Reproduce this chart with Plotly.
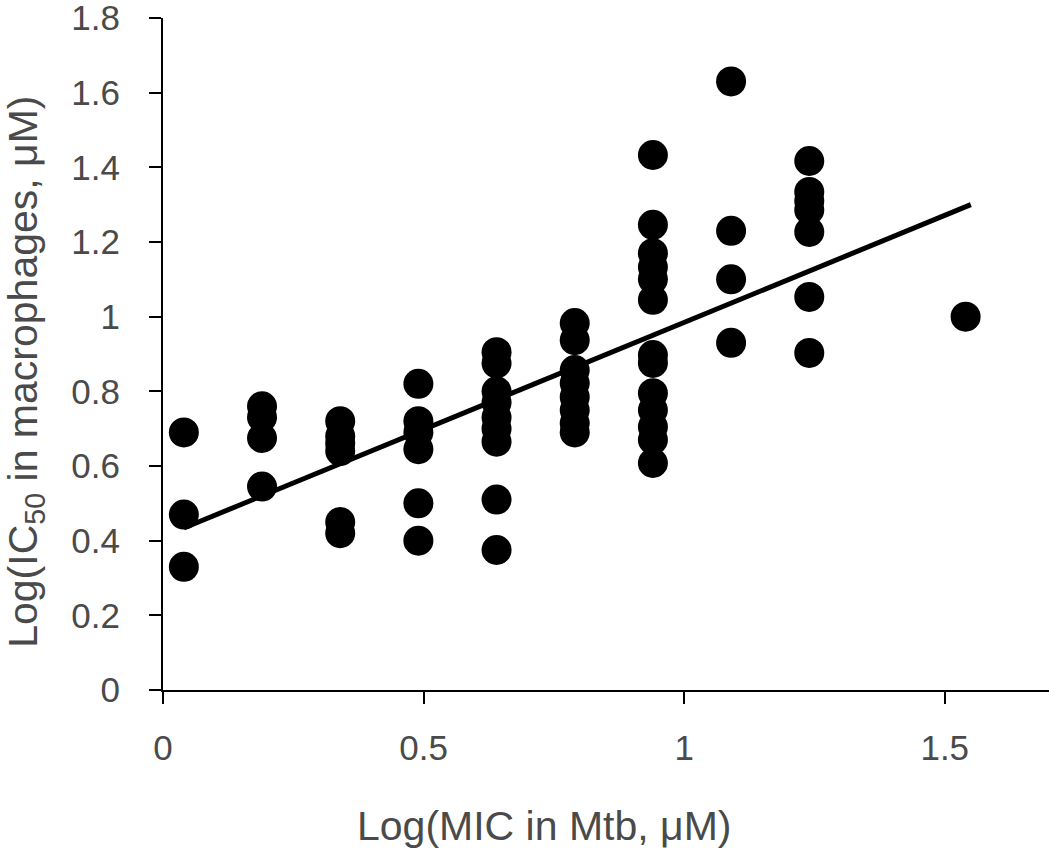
import plotly.graph_objects as go

# log10(MIC in Mtb) for each column of compounds
mic_log = [0.04, 0.19, 0.34, 0.49, 0.64, 0.79, 0.94, 1.09, 1.24, 1.54]

# log10(IC50 in macrophages) for the compounds in each column
ic50_log = [
    [0.69, 0.47, 0.33],
    [0.76, 0.73, 0.675, 0.545],
    [0.72, 0.68, 0.66, 0.64, 0.45, 0.42],
    [0.82, 0.72, 0.69, 0.645, 0.50, 0.40],
    [0.905, 0.875, 0.80, 0.77, 0.73, 0.70, 0.665, 0.51, 0.375],
    [0.983, 0.937, 0.857, 0.822, 0.785, 0.75, 0.715, 0.69],
    [1.433, 1.246, 1.17, 1.133, 1.10, 1.045, 0.897, 0.876, 0.795, 0.75, 0.705, 0.67, 0.608],
    [1.63, 1.23, 1.10, 0.93],
    [1.417, 1.334, 1.31, 1.286, 1.227, 1.053, 0.903],
    [1.0],
]

# linear trend line end points
trend_x = [0.04, 1.55]
trend_y = [0.434, 1.30]

x_ticks = [0, 0.5, 1, 1.5]
x_tick_text = ["0", "0.5", "1", "1.5"]
y_ticks = [0, 0.2, 0.4, 0.6, 0.8, 1.0, 1.2, 1.4, 1.6, 1.8]
y_tick_text = ["0", "0.2", "0.4", "0.6", "0.8", "1", "1.2", "1.4", "1.6", "1.8"]

xs, ys = [], []
for x, col in zip(mic_log, ic50_log):
    for y in col:
        xs.append(x)
        ys.append(y)

font_family = "Liberation Sans, Arial, sans-serif"
text_color = "#4a4a4a"

fig = go.Figure()

fig.add_trace(go.Scatter(
    x=xs, y=ys, mode="markers",
    marker=dict(color="black", size=30, line=dict(width=0)),
    cliponaxis=False, showlegend=False,
))

fig.add_trace(go.Scatter(
    x=trend_x, y=trend_y, mode="lines",
    line=dict(color="black", width=5),
    cliponaxis=False, showlegend=False,
))

fig.update_xaxes(
    range=[0, 1.7],
    tickvals=x_ticks, ticktext=x_tick_text,
    ticks="outside", ticklen=12, tickwidth=2, tickcolor="black",
    showline=True, linecolor="black", linewidth=2,
    showgrid=False, zeroline=False, automargin=False,
    tickfont=dict(size=35, color=text_color, family=font_family),
    ticklabelstandoff=14, ticklabeloverflow="allow",
)

fig.update_yaxes(
    range=[0, 1.8],
    tickvals=y_ticks, ticktext=y_tick_text,
    ticks="outside", ticklen=12, tickwidth=2, tickcolor="black",
    showline=True, linecolor="black", linewidth=2,
    showgrid=False, zeroline=False, automargin=False,
    tickfont=dict(size=35, color=text_color, family=font_family),
    ticklabelstandoff=22, ticklabeloverflow="allow",
)

# axis titles placed as annotations
fig.add_annotation(
    text="Log(MIC in Mtb, μM)", xref="paper", yref="paper",
    x=0.43, y=-0.202, xanchor="center", yanchor="middle",
    showarrow=False, font=dict(size=41, color=text_color, family=font_family),
)
fig.add_annotation(
    text="Log(IC<sub>50</sub> in macrophages, μM)", xref="paper", yref="paper",
    x=-0.155, y=0.473, xanchor="center", yanchor="middle", textangle=-90,
    showarrow=False, font=dict(size=41, color=text_color, family=font_family),
)

fig.update_layout(
    width=1050, height=849,
    margin=dict(l=163, r=1, t=18, b=159),
    plot_bgcolor="white", paper_bgcolor="white",
)

# drop the page's default body margin so the figure sits at the window corner
fig.write_html("out.html", config={"displayModeBar": False},
               post_script="document.body.style.margin='0';")
